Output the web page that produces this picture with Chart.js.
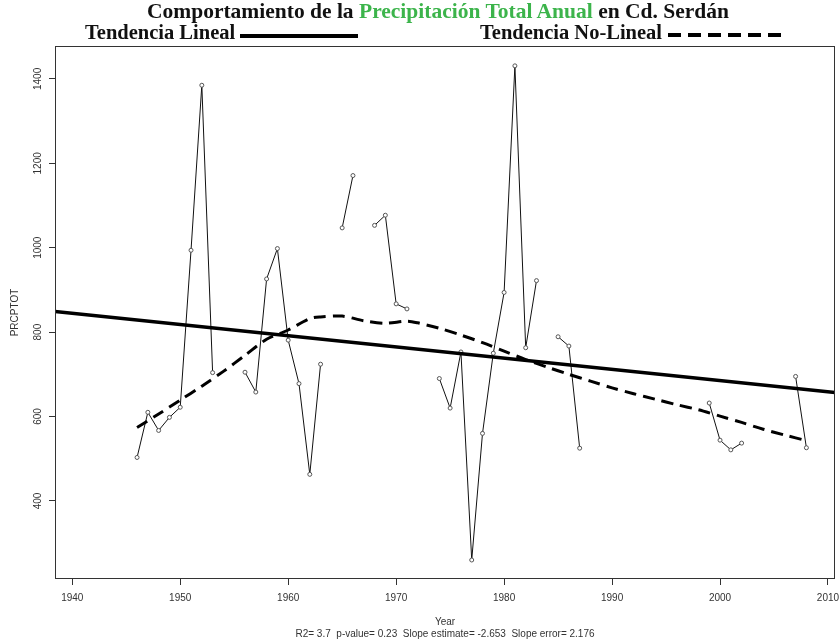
<!DOCTYPE html>
<html>
<head>
<meta charset="utf-8">
<script src="https://cdn.jsdelivr.net/npm/chart.js@4/dist/chart.umd.min.js"></script>
<style>
  body { margin: 0; background: #fff; }
  #wrap { position: relative; width: 840px; height: 644px; }
  .serif { position: absolute; font-family: 'Liberation Serif', 'Times New Roman', serif; font-weight: bold; font-size: 20.5px; color: #111; white-space: nowrap; line-height: 1; }
  .green { color: #3cb44b; }
  .sample { position: absolute; height: 4px; }
</style>
</head>
<body>
<div id="wrap">
  <canvas id="prcptot-chart" width="840" height="644"></canvas>
  <div class="serif" id="title" style="left:147px; top:1px; font-size:21.5px;">Comportamiento de la <span class="green">Precipitación Total Anual</span> en Cd. Serdán</div>
  <div class="serif" style="left:85px; top:22px;">Tendencia Lineal</div>
  <div class="sample" style="left:240px; top:34px; width:118px; background:#000;"></div>
  <div class="serif" style="left:480px; top:22px;">Tendencia No-Lineal</div>
  <div class="sample" style="left:668px; top:33px; width:118px; background: repeating-linear-gradient(90deg, #000 0 13px, transparent 13px 20px);"></div>
</div>
<script>
// observed annual totals (null = missing year)
const years = [1946, 1947, 1948, 1949, 1950, 1951, 1952, 1953, 1954, 1955,
  1956, 1957, 1958, 1959, 1960, 1961, 1962, 1963, 1964, 1965,
  1966, 1967, 1968, 1969, 1970, 1971, 1972, 1973, 1974, 1975,
  1976, 1977, 1978, 1979, 1980, 1981, 1982, 1983, 1984, 1985,
  1986, 1987, 1988, 1989, 1990, 1991, 1992, 1993, 1994, 1995,
  1996, 1997, 1998, 1999, 2000, 2001, 2002, 2003, 2004, 2005,
  2006, 2007, 2008]
const prcptot = [503, 610, 567, 598, 622, 994, 1385, 704, null, null,
  705, 658, 926, 998, 781, 678, 463, 724, null, 1047,
  1171, null, 1053, 1077, 867, 855, null, null, 690, 620,
  753, 260, 560, 750, 894, 1431, 763, 922, null, 789,
  767, 525, null, null, null, null, null, null, null, null,
  null, null, null, 632, 544, 521, 537, null, null, null,
  null, 695, 526]

// linear trend, read at the plot edges
const linearYears = [1938.4, 2010.65]
const linearValues = [848.6, 657]

// non-linear (loess) trend
const loessYears = [1946, 1948, 1950, 1952, 1954, 1956, 1958, 1960, 1962, 1963,
  1965, 1967, 1969, 1971, 1972, 1974, 1976, 1978, 1980, 1982,
  1984, 1986, 1988, 1990, 1992, 1994, 1996, 1998, 2000, 2002,
  2004, 2006, 2008]
const loessValues = [574, 606, 639, 672, 707, 745, 783, 805, 832, 836,
  838, 827, 821, 826, 822, 809, 793, 775, 755, 735,
  717, 700, 684, 668, 654, 641, 628, 616, 601, 586,
  570, 556, 543]

const xTicks = [1940, 1950, 1960, 1970, 1980, 1990, 2000, 2010]
const yTicks = [400, 600, 800, 1000, 1200, 1400]

const toPoints = (xs, ys) => xs.map((x, i) => ({ x: x, y: ys[i] }))

const framePlugin = {
  id: 'frame',
  afterDatasetsDraw(chart) {
    const { ctx, chartArea } = chart
    ctx.save()
    ctx.strokeStyle = '#333'
    ctx.lineWidth = 1
    ctx.strokeRect(chartArea.left + 0.5, chartArea.top + 0.5,
      chartArea.right - chartArea.left - 1, chartArea.bottom - chartArea.top - 1)
    ctx.restore()
  }
}

const axisFont = { family: "'Liberation Sans', Arial, sans-serif", size: 10 }

new Chart(document.getElementById('prcptot-chart'), {
  type: 'line',
  data: {
    datasets: [
      {
        label: 'Tendencia Lineal',
        data: toPoints(linearYears, linearValues),
        borderColor: '#000',
        borderWidth: 3.5,
        pointRadius: 0,
        tension: 0
      },
      {
        label: 'Tendencia No-Lineal',
        data: toPoints(loessYears, loessValues),
        borderColor: '#000',
        borderWidth: 3,
        borderDash: [12, 7],
        pointRadius: 0,
        tension: 0.3
      },
      {
        label: 'PRCPTOT',
        data: toPoints(years, prcptot),
        borderColor: '#111',
        borderWidth: 1,
        spanGaps: false,
        pointRadius: 2,
        pointBorderWidth: 1,
        pointBorderColor: '#555',
        pointBackgroundColor: '#fff',
        tension: 0
      }
    ]
  },
  options: {
    responsive: false,
    animation: false,
    layout: { padding: { top: 46, right: 3, left: 0, bottom: 0 } },
    plugins: {
      legend: { display: false },
      tooltip: { enabled: false }
    },
    scales: {
      x: {
        type: 'linear',
        min: 1938.4,
        max: 2010.65,
        afterBuildTicks: (scale) => { scale.ticks = xTicks.map(v => ({ value: v })) },
        afterFit: (scale) => { scale.height = 65; scale.paddingLeft = 0; scale.paddingRight = 0 },
        grid: { drawOnChartArea: false, tickLength: 6, tickColor: '#333' },
        border: { display: false },
        ticks: {
          font: axisFont,
          color: '#333',
          padding: 7,
          maxRotation: 0,
          callback: (v) => String(v)
        },
        title: {
          display: true,
          text: ['Year', 'R2= 3.7  p-value= 0.23  Slope estimate= -2.653  Slope error= 2.176'],
          font: { ...axisFont, lineHeight: 1.2 },
          color: '#333',
          padding: { top: 0, bottom: 4 }
        }
      },
      y: {
        min: 215,
        max: 1478,
        afterBuildTicks: (scale) => { scale.ticks = yTicks.map(v => ({ value: v })) },
        afterFit: (scale) => { scale.width = 55; scale.paddingTop = 0; scale.paddingBottom = 0 },
        grid: { drawOnChartArea: false, tickLength: 6, tickColor: '#333' },
        border: { display: false },
        ticks: {
          font: axisFont,
          color: '#333',
          padding: 0,
          minRotation: 90,
          maxRotation: 90,
          crossAlign: 'center',
          callback: (v) => String(v)
        },
        title: {
          display: true,
          text: 'PRCPTOT',
          font: axisFont,
          color: '#333',
          padding: { top: 9, bottom: 0 }
        }
      }
    }
  },
  plugins: [framePlugin]
})
</script>
</body>
</html>
